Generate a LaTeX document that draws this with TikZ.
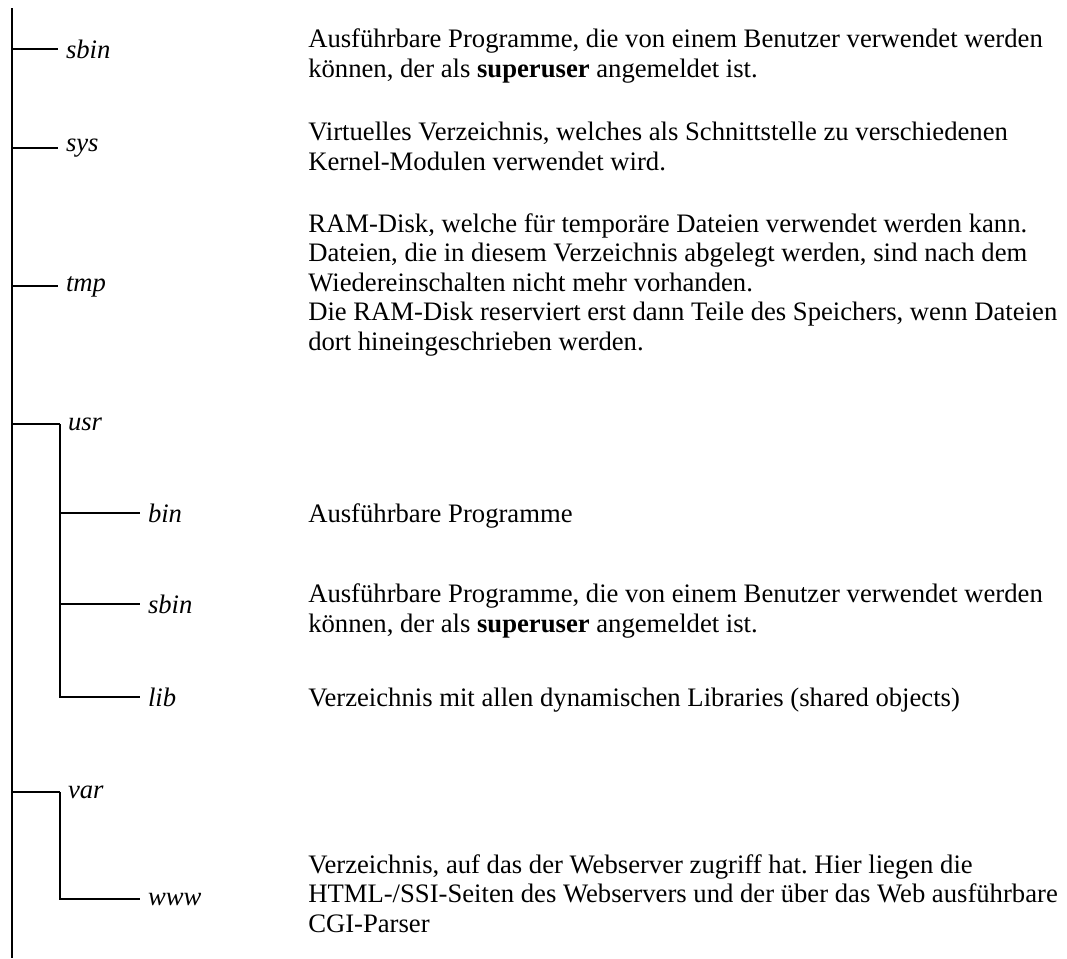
\documentclass[tikz,border=0pt]{standalone}
\usepackage{fontspec}
\setmainfont{Liberation Serif}
\frenchspacing

\tikzset{
  tree/.style={line width=1.5pt},
  dir/.style={font=\itshape, anchor=mid west, inner xsep=6pt, inner ysep=0pt, outer sep=0pt},
  note/.style={anchor=base west, align=left, inner sep=0pt}
}

\begin{document}
\begin{tikzpicture}[x=0.75pt, y=-0.75pt]
    \useasboundingbox (0,0) rectangle (1067,958);
    \fontsize{20pt}{22.1pt}\selectfont
    % main trunk
    \coordinate (top) at (12,8);
    \coordinate (bottom) at (12,958);
    \draw[tree] (top) -- (bottom);

    % first level
    \node[dir] (sbin) at (58,52) {sbin};
    \node[dir] (sys) at (58,145) {sys};
    \node[dir] (tmp) at (58,285) {tmp};
    \node[dir] (usr) at (60,424) {usr};
    \node[dir] (var) at (60,792) {var};
    \foreach \d in {sbin, sys, tmp, usr, var}
        \draw[tree] (top |- \d.west) -- (\d.west);

    % below usr
    \node[dir] (bin) at (140,516) {bin};
    \node[dir] (usbin) at (140,607) {sbin};
    \node[dir] (lib) at (140,700) {lib};
    \draw[tree] (usr.west) |- (lib.west);
    \draw[tree] (usr.west |- bin.west) -- (bin.west);
    \draw[tree] (usr.west |- usbin.west) -- (usbin.west);

    % below var
    \node[dir] (www) at (140,899) {www};
    \draw[tree] (var.west) |- (www.west);

    % descriptions (base = last line)
    \coordinate (col) at (308,0);
    \node[note] (sbinnote) at (308,77) {Ausführbare Programme, die von einem Benutzer verwendet werden\\
        können, der als \textbf{superuser} angemeldet ist.};
    \node[note] (sysnote) at (308,170) {Virtuelles Verzeichnis, welches als Schnittstelle zu verschiedenen\\
        Kernel-Modulen verwendet wird.};
    \node[note] (tmpnote) at (308,350) {RAM-Disk, welche für temporäre Dateien verwendet werden kann.\\
        Dateien, die in diesem Verzeichnis abgelegt werden, sind nach dem\\
        Wiedereinschalten nicht mehr vorhanden.\\
        Die RAM-Disk reserviert erst dann Teile des Speichers, wenn Dateien\\
        dort hineingeschrieben werden.};
    \node[note] (binnote) at (bin.base -| col) {Ausführbare Programme};
    \node[note] (usbinnote) at (308,632) {Ausführbare Programme, die von einem Benutzer verwendet werden\\
        können, der als \textbf{superuser} angemeldet ist.};
    \node[note] (libnote) at (lib.base -| col) {Verzeichnis mit allen dynamischen Libraries (shared objects)};
    \node[note] (wwwnote) at (308,932) {Verzeichnis, auf das der Webserver zugriff hat. Hier liegen die\\
        HTML-/SSI-Seiten des Webservers und der über das Web ausführbare\\
        CGI-Parser};
\end{tikzpicture}
\end{document}
